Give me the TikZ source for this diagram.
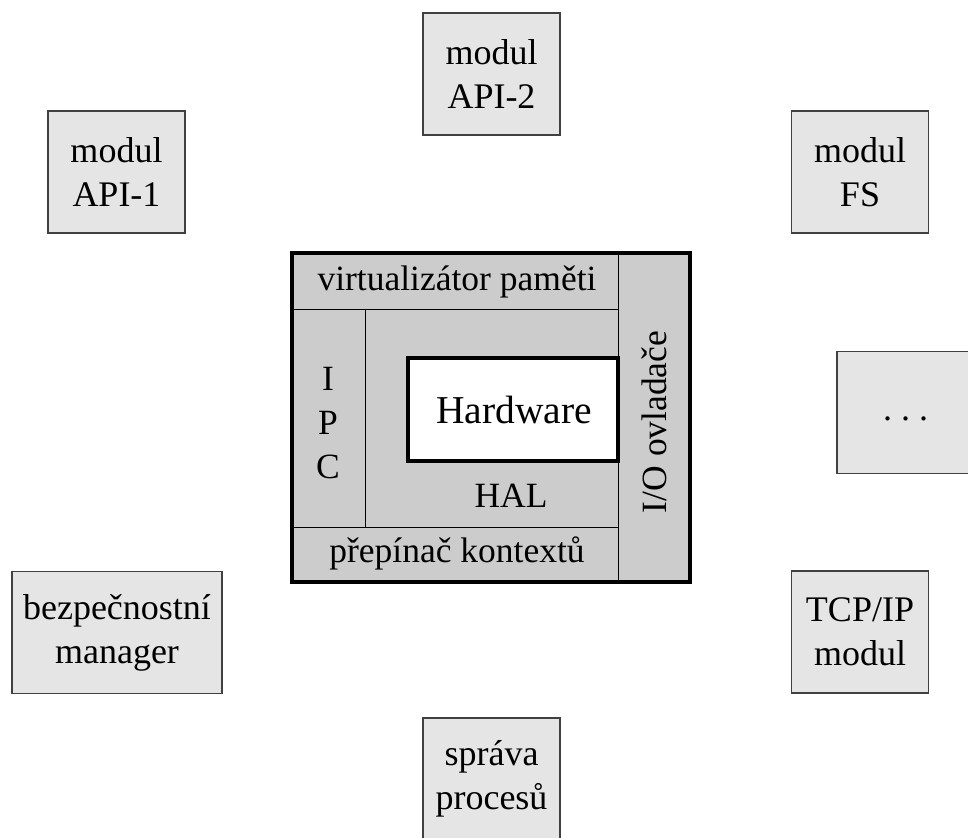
\documentclass[tikz,border=0pt]{standalone}
\usepackage{fontspec}
\setmainfont{Liberation Serif}
\usetikzlibrary{positioning}

\begin{document}
\begin{tikzpicture}[x=1pt, y=-1pt,
    every node/.style={font=\fontsize{36}{44}\selectfont, align=center},
    modbox/.style={draw=black!75, line width=1.5pt, fill=black!10, inner sep=0pt,
      minimum width=137pt, minimum height=122pt},
    layer/.style={fill=black!20, draw=black, line width=0.8pt},
    lbl/.style={font=\fontsize{35.5}{44}\selectfont}]
  \useasboundingbox (0,0) rectangle (968,837);
  % modules around the kernel
  \foreach \x/\y/\n/\t in {116.5/172/api1/{modul\\API-1}, 491.5/74/api2/{modul\\API-2},
      860/172/fs/{modul\\FS}, 905.5/412.5/more/{\raisebox{-8pt}[0pt][0pt]{.~.~.}},
      860/632/tcp/{TCP/IP\\modul}, 491.5/779/proc/{správa\\procesů}}
    \node[modbox] (\n) at (\x,\y) {\t};
  \node[modbox, minimum width=210pt] (sec) at (117,632.5) {bezpečnostní\\manager};
  % kernel layers
  \draw[layer] (292,253) rectangle (618,309);
  \draw[layer] (618,253) rectangle (690,582);
  \draw[layer] (292,527) rectangle (618,582);
  \draw[layer] (292,309) rectangle (365,527);
  \draw[layer] (365,309) rectangle (618,527);
  \draw[line width=4pt, fill=white] (408,358) rectangle (618,461);
  \draw[line width=4pt] (292,253) rectangle (690,582);
  % layer labels
  \node[lbl] (vmm) at (457,282) {virtualizátor paměti};
  \node[lbl] (ctx) at (457,553) {přepínač kontextů};
  \node[lbl, rotate=90] (io) at (654,422) {I/O ovladače};
  \node[lbl] (ipc) at (328,423) {I\\P\\C};
  \node[lbl] (hal) at (511,496) {HAL};
  \node[font=\fontsize{39.5}{44}\selectfont] (hw) at (514,410) {Hardware};
\end{tikzpicture}
\end{document}
